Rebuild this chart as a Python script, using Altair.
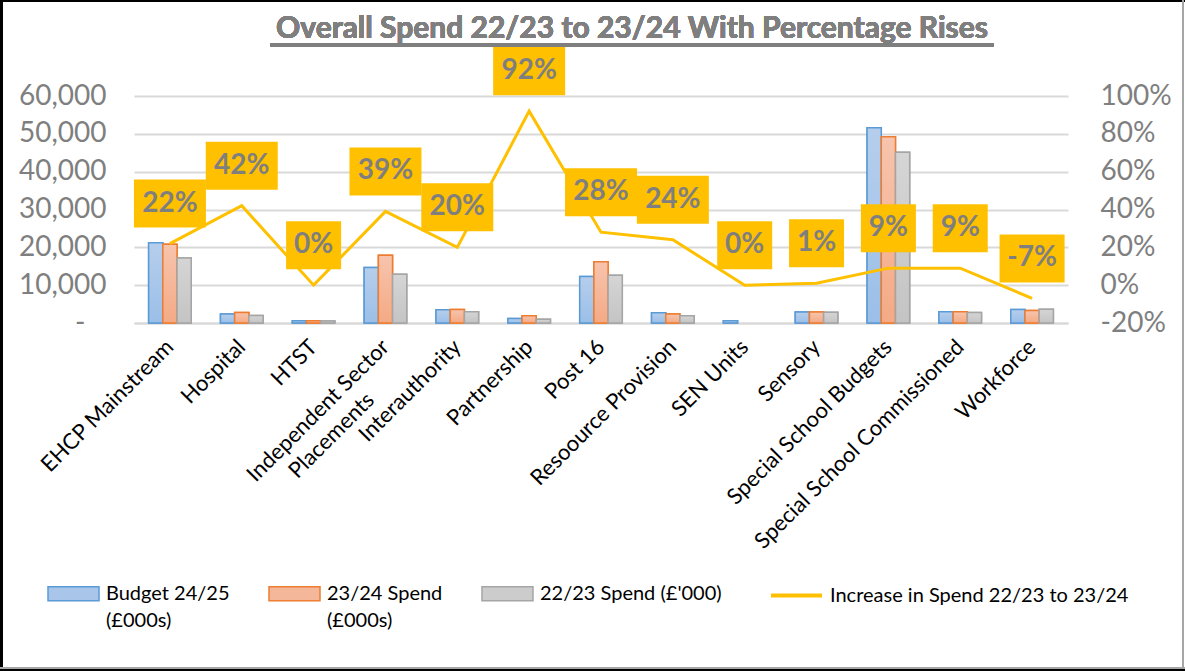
import altair as alt
import pandas as pd

categories = ["EHCP Mainstream", "Hospital", "HTST", "Independent Sector Placements",
              "Interauthority", "Partnership", "Post 16", "Resoource Provision",
              "SEN Units", "Sensory", "Special School Budgets",
              "Special School Commissioned", "Workforce"]
budget_2425 = [21200, 2400, 600, 14700, 3500, 1200, 12300, 2700, 600, 2900, 51600, 3000, 3600]
spend_2324 = [20800, 2800, 600, 17900, 3600, 1900, 16200, 2400, 0, 2900, 49200, 3000, 3300]
spend_2223 = [17200, 2000, 500, 12900, 3000, 1000, 12600, 1900, 0, 2870, 45100, 2800, 3650]
pct_increase = [0.22, 0.42, 0.00, 0.39, 0.20, 0.92, 0.28, 0.24, 0.00, 0.01, 0.09, 0.09, -0.07]

series_names = ["Budget 24/25 (£000s)", "23/24 Spend (£000s)", "22/23 Spend (£'000)"]
line_name = "Increase in Spend 22/23 to 23/24"
title_text = "Overall Spend 22/23 to 23/24 With Percentage Rises"
left_ticks = [0, 10000, 20000, 30000, 40000, 50000, 60000]
right_ticks = [-0.2, 0.0, 0.2, 0.4, 0.6, 0.8, 1.0]

fills = ["#A9C6EA", "#F5B799", "#CCCCCC"]
grad_tops = ["#B6CEEC", "#F7C4AD", "#D5D5D5"]
grad_bottoms = ["#9BBFE8", "#F4AA85", "#C4C4C4"]
strokes = ["#5B9BD5", "#ED7D31", "#A5A5A5"]
GOLD = "#FFC000"
GRAY = "#7F7F7F"
FONT = "Lato"
PAD = "\u2800"
NB = "\u00a0"


def grad(top, bottom):
    return {"gradient": "linear", "x1": 0, "y1": 0, "x2": 0, "y2": 1,
            "stops": [{"offset": 0, "color": top}, {"offset": 1, "color": bottom}]}


rows = []
for i, c in enumerate(categories):
    for s, vals in zip(series_names, [budget_2425, spend_2324, spend_2223]):
        rows.append({"category": c, "series": s, "value": vals[i]})
bars_df = pd.DataFrame(rows)
line_df = pd.DataFrame({"category": categories, "pct": pct_increase,
                        "line_series": [line_name] * len(categories)})

x_enc = alt.X(
    "category:N", sort=categories,
    scale=alt.Scale(paddingInner=0.407, paddingOuter=0.2035),
    axis=alt.Axis(
        title=None, labelAngle=-45, labelAlign="right", labelBaseline="middle",
        labelFontSize=22, labelFont=FONT, labelColor="#000000", labelPadding=20,
        ticks=False, domain=True, domainColor="#D9D9D9", domainWidth=2,
        labelLimit=400, labelOverlap=False,
        labelExpr=("datum.label == 'Independent Sector Placements' ? "
                   "['Independent Sector', 'Placements" + PAD * 3 + "'] : datum.label"),
    ),
)
x_plain = alt.X("category:N", sort=categories)
xoff = alt.XOffset("series:N", sort=series_names,
                   scale=alt.Scale(domain=series_names, paddingInner=0, paddingOuter=0))

bar_legend = alt.Legend(
    title=None, orient="none", legendX=-87, legendY=471, direction="horizontal",
    columns=3, symbolType="M-1,-0.275L1,-0.275L1,0.275L-1,0.275Z", symbolSize=2601,
    symbolStrokeWidth=1.5, labelFont=FONT, labelFontSize=20, labelColor="#000000",
    labelLimit=400, columnPadding=36, labelOffset=6, padding=0,
    labelBaseline="middle",
    labelExpr=("datum.label == 'Budget 24/25 (£000s)' ? ['Budget 24/25', '(£000s)'] : "
               "datum.label == '23/24 Spend (£000s)' ? ['23/24 Spend', '(£000s)'] : "
               "[datum.label, '" + NB + "']"),
)

y_left = alt.Y("value:Q", scale=alt.Scale(domain=[0, 60000], nice=False),
               axis=alt.Axis(values=left_ticks, format=",.0f", title=None,
                             labelExpr="datum.value == 0 ? '-" + PAD + "' : datum.label",
                             labelFontSize=28, labelFont=FONT, labelColor=GRAY,
                             labelPadding=28, grid=True, gridColor="#D9D9D9", gridWidth=2,
                             ticks=False, domain=False, labelOverlap=False))
stroke_enc = alt.Stroke("series:N", sort=series_names,
                        scale=alt.Scale(domain=series_names, range=strokes), legend=bar_legend)

bar_base = alt.Chart(bars_df).transform_filter("datum.value > 0")

bars = bar_base.mark_bar(strokeWidth=1.5).encode(
    x=x_enc, xOffset=xoff, y=y_left,
    fill=alt.Fill("series:N", sort=series_names,
                  scale=alt.Scale(domain=series_names, range=fills), legend=bar_legend),
    stroke=stroke_enc,
)

bars_grad = bar_base.mark_bar(strokeWidth=1.5).encode(
    x=x_enc, xOffset=xoff, y=y_left,
    fill={"condition": [
        {"test": "datum.series === '" + series_names[0] + "'",
         "value": grad(grad_tops[0], grad_bottoms[0])},
        {"test": "datum.series === '" + series_names[1] + "'",
         "value": grad(grad_tops[1], grad_bottoms[1])}],
        "value": grad(grad_tops[2], grad_bottoms[2])},
    stroke=stroke_enc,
)

y_right = alt.Y("pct:Q", scale=alt.Scale(domain=[-0.2, 1.0], nice=False),
                axis=alt.Axis(orient="right", values=right_ticks, format=".0%", title=None,
                              labelExpr="replace(datum.label, '\u2212', '-')",
                              labelFontSize=28, labelFont=FONT, labelColor=GRAY,
                              labelPadding=32, grid=False, ticks=False, domain=False,
                              labelOverlap=False))

line = alt.Chart(line_df).mark_line(strokeWidth=3).encode(
    x=x_enc,
    y=y_right,
    color=alt.Color("line_series:N", scale=alt.Scale(domain=[line_name], range=[GOLD]),
                    legend=alt.Legend(title=None, orient="none", legendX=635, legendY=472,
                                      symbolType="stroke", symbolSize=2601,
                                      symbolStrokeWidth=4, labelFont=FONT,
                                      labelFontSize=20, labelColor="#000000",
                                      labelLimit=500, labelOffset=6, padding=0,
                                      labelBaseline="middle")),
)

label_base = alt.Chart(line_df).transform_calculate(
    label="replace(format(datum.pct, '.0%'), '\u2212', '-')",
    box="datum.pct < 0 ? 'n' : (abs(datum.pct) < 0.095 ? 's' : 'w')",
)

boxes = label_base.mark_point(filled=True, opacity=1, strokeWidth=0, yOffset=-40,
                              size=5184, fill=GOLD).encode(
    x=x_enc,
    y=y_right,
    shape=alt.Shape("box:N", legend=None, scale=alt.Scale(
        domain=["w", "s", "n"],
        range=["M-1,-0.667L1,-0.667L1,0.667L-1,0.667Z",
               "M-0.764,-0.667L0.764,-0.667L0.764,0.667L-0.764,0.667Z",
               "M-0.903,-0.667L0.903,-0.667L0.903,0.667L-0.903,0.667Z"])),
)

texts = label_base.mark_text(yOffset=-40, font=FONT, fontSize=28, fontWeight="bold",
                             color=GRAY, baseline="middle", align="center").encode(
    x=x_enc,
    y=y_right,
    text="label:N",
)

right = alt.layer(line, boxes, texts)

title_mark = alt.Chart(line_df).mark_text(
    font=FONT, fontSize=30, fontWeight="bold", color=GRAY, align="center",
    baseline="alphabetic").encode(
    x=alt.value(498), y=alt.value(-58), text=alt.value(title_text))
underline = alt.Chart(line_df).mark_rule(color=GRAY, strokeWidth=3).encode(
    x=alt.value(136), x2=alt.value(860), y=alt.value(-51))
frame_left = alt.Chart(line_df).mark_rule(color="#000000", strokeWidth=3).encode(
    x=alt.value(-132.5), y=alt.value(-96), y2=alt.value(575))
frame_top = alt.Chart(line_df).mark_rule(color="#000000", strokeWidth=2).encode(
    x=alt.value(-134), x2=alt.value(1051), y=alt.value(-95))
frame_right = alt.Chart(line_df).mark_rule(color="#A6A6A6", strokeWidth=2).encode(
    x=alt.value(1049), y=alt.value(-96), y2=alt.value(573))
frame_bottom = alt.Chart(line_df).mark_rule(color="#A6A6A6", strokeWidth=2).encode(
    x=alt.value(-134), x2=alt.value(1051), y=alt.value(572))
frame_bottom2 = alt.Chart(line_df).mark_rule(color="#000000", strokeWidth=2).encode(
    x=alt.value(-134), x2=alt.value(1051), y=alt.value(574))

left = alt.layer(bars, bars_grad, title_mark, underline, frame_left, frame_top, frame_right,
                 frame_bottom, frame_bottom2)

chart = alt.layer(left, right).resolve_scale(y="independent").properties(
    width=934, height=227,
    autosize=alt.AutoSizeParams(type="none"),
    padding={"left": 134, "top": 96, "right": 117, "bottom": 348},
).configure(background="white", style={"guide-label": {"lineHeight": 27}}).configure_view(stroke=None)

chart.save("out.html", embed_options={"renderer": "svg", "actions": False})
